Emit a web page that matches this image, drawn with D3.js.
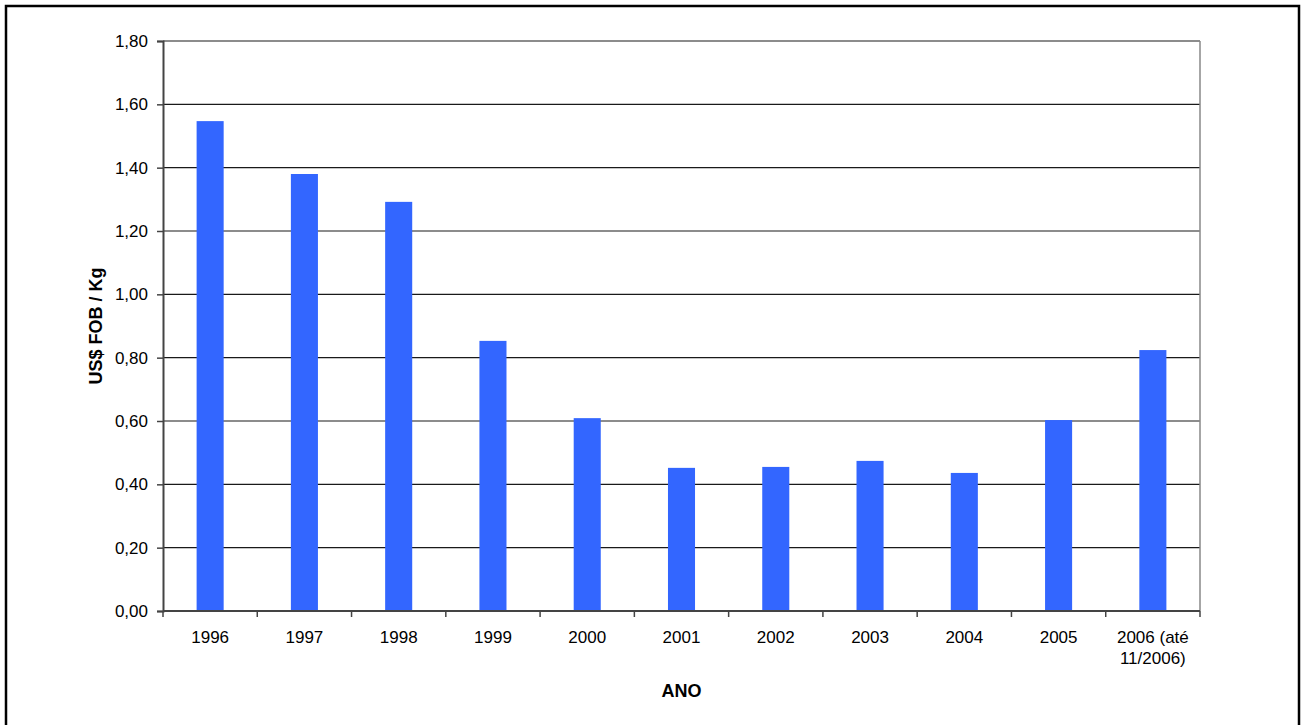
<!DOCTYPE html>
<html>
<head>
<meta charset="utf-8">
<script src="https://cdn.jsdelivr.net/npm/d3@7"></script>
<style>
  body { margin: 0; background: #fff; }
  svg { display: block; font-family: "Liberation Sans", Arial, sans-serif; }
</style>
</head>
<body>
<div id="chart"></div>
<script>
// data
const years = ['1996', '1997', '1998', '1999', '2000', '2001', '2002', '2003', '2004', '2005', '2006 (até 11/2006)'];
const prices = [1.547, 1.38, 1.292, 0.853, 0.609, 0.452, 0.455, 0.474, 0.436, 0.603, 0.824];
const yTicks = [0, 0.2, 0.4, 0.6, 0.8, 1.0, 1.2, 1.4, 1.6, 1.8];

const W = 1308, H = 725;
const margin = { top: 41, right: 108, bottom: 114, left: 163 };
const width = W - margin.left - margin.right;
const height = H - margin.top - margin.bottom;

const svg = d3.select('#chart')
    .append('svg')
    .attr('width', W)
    .attr('height', H);

// outer frame (bottom edge falls off the page in the original)
svg.append('rect')
    .attr('x', 6).attr('y', 6)
    .attr('width', 1293).attr('height', 730)
    .attr('fill', 'none')
    .attr('stroke', '#000')
    .attr('stroke-width', 2.5);

const g = svg.append('g')
    .attr('transform', `translate(${margin.left},${margin.top})`);

const x = d3.scaleBand()
    .domain(years)
    .range([0, width])
    .paddingInner(0.713)
    .paddingOuter(0.3565);

const xb = d3.scaleBand().domain(years).range([0, width]); // category slots for the ticks

const y = d3.scaleLinear()
    .domain([0, 1.8])
    .range([height, 0]);

const fmt = d => d3.format('.2f')(d).replace('.', ',');

// gridlines
g.selectAll('line.grid')
    .data(yTicks.filter(d => d > 0))
    .join('line')
    .attr('class', 'grid')
    .attr('x1', 0).attr('x2', width)
    .attr('y1', d => y(d)).attr('y2', d => y(d))
    .attr('stroke', '#1a1a1a')
    .attr('stroke-width', 1.2);

// right border of plot area
g.append('line')
    .attr('x1', width).attr('x2', width)
    .attr('y1', 0).attr('y2', height)
    .attr('stroke', '#888')
    .attr('stroke-width', 1.5);

// bars
g.selectAll('rect.bar')
    .data(prices)
    .join('rect')
    .attr('class', 'bar')
    .attr('x', (d, i) => x(years[i]))
    .attr('y', d => y(d))
    .attr('width', x.bandwidth())
    .attr('height', d => height - y(d))
    .attr('fill', '#3366FF');

// y axis
const yAxis = g.append('g')
    .call(d3.axisLeft(y).tickValues(yTicks).tickFormat(fmt).tickSize(6).tickPadding(9));
yAxis.select('.domain').attr('stroke', '#444').attr('stroke-width', 2);
yAxis.selectAll('.tick line').attr('stroke', '#444').attr('stroke-width', 1.5);
yAxis.selectAll('.tick text')
    .attr('font-size', 17)
    .attr('fill', '#000')
    .attr('font-family', '"Liberation Sans", Arial, sans-serif');

// x axis: ticks between categories
const xAxis = g.append('g').attr('transform', `translate(0,${height})`);
xAxis.append('line')
    .attr('x1', 0).attr('x2', width)
    .attr('stroke', '#444').attr('stroke-width', 2);
xAxis.selectAll('line.tk')
    .data(d3.range(years.length + 1))
    .join('line')
    .attr('class', 'tk')
    .attr('x1', i => i * xb.step()).attr('x2', i => i * xb.step())
    .attr('y1', 0).attr('y2', 6)
    .attr('stroke', '#444').attr('stroke-width', 1.5);

const labels = xAxis.selectAll('text.lbl')
    .data(years)
    .join('text')
    .attr('class', 'lbl')
    .attr('x', d => xb(d) + xb.bandwidth() / 2)
    .attr('y', 32)
    .attr('text-anchor', 'middle')
    .attr('font-size', 17)
    .attr('fill', '#000');

labels.each(function(d) {
    const t = d3.select(this);
    const parts = d === '2006 (até 11/2006)' ? ['2006 (até', '11/2006)'] : [d];
    parts.forEach((p, k) => {
        t.append('tspan')
            .attr('x', xb(d) + xb.bandwidth() / 2)
            .attr('dy', k === 0 ? 0 : 21)
            .text(p);
    });
});

// axis titles
svg.append('text')
    .attr('x', margin.left + width / 2)
    .attr('y', 697)
    .attr('text-anchor', 'middle')
    .attr('font-size', 18)
    .attr('font-weight', 'bold')
    .text('ANO');

svg.append('text')
    .attr('transform', `translate(102,${margin.top + height / 2}) rotate(-90)`)
    .attr('text-anchor', 'middle')
    .attr('font-size', 18)
    .attr('font-weight', 'bold')
    .text('US$ FOB / Kg');
</script>
</body>
</html>
